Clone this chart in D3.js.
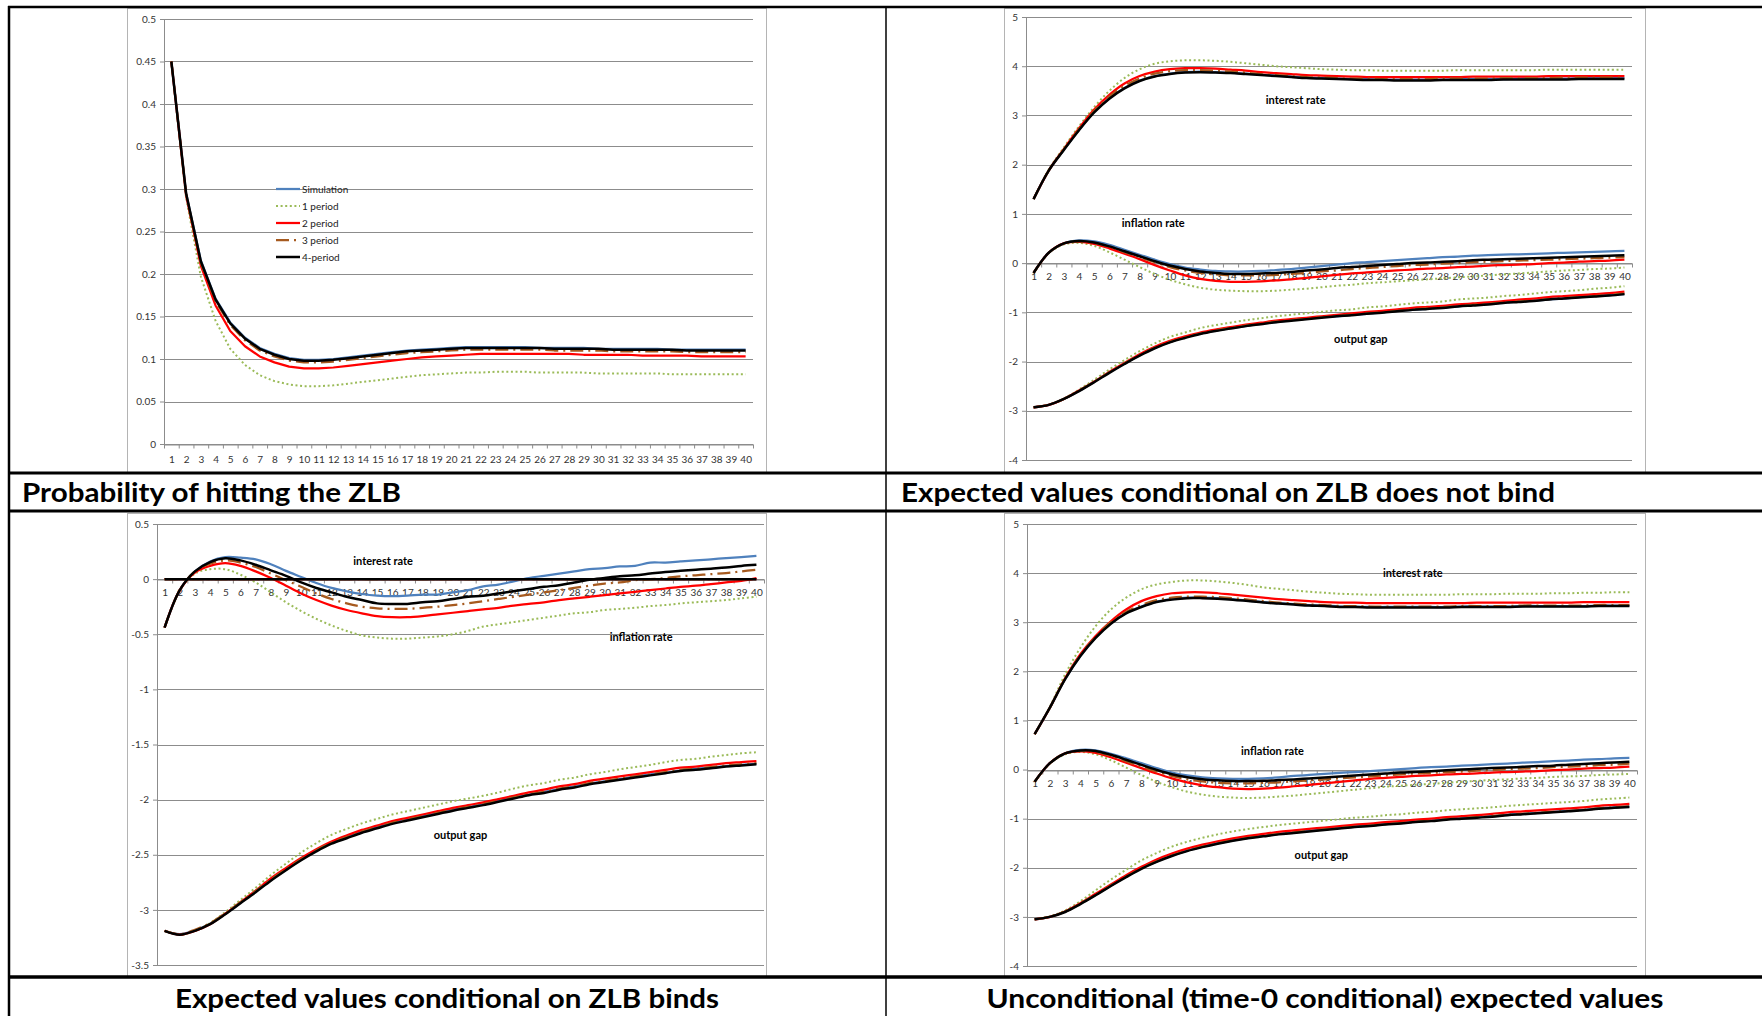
<!DOCTYPE html>
<html>
<head>
<meta charset="utf-8">
<script src="https://cdnjs.cloudflare.com/ajax/libs/d3/7.8.5/d3.min.js"></script>
<style>
  body { margin: 0; background: #fff; }
  svg { display: block; font-family: Lato, "Open Sans", sans-serif; }
</style>
</head>
<body>
<svg id="chart" width="1762" height="1016"></svg>
<script>
// categories: horizon 1..40
var periods = d3.range(1, 41);
var seriesNames = ["Simulation", "1 period", "2 period", "3 period", "4-period"];

// ---- Probability of hitting the ZLB
var probSim = [0.45,0.295,0.216,0.171,0.143,0.125,0.113,0.106,0.101,0.099,0.099,0.100,0.102,0.104,0.106,0.108,0.110,0.111,0.112,0.113,0.114,0.114,0.114,0.114,0.114,0.113,0.113,0.113,0.113,0.112,0.112,0.112,0.112,0.112,0.111,0.111,0.111,0.111,0.111,0.111];
var prob1 = [0.45,0.29,0.197,0.145,0.112,0.093,0.081,0.074,0.070,0.068,0.068,0.069,0.071,0.073,0.075,0.077,0.079,0.081,0.082,0.083,0.084,0.084,0.085,0.085,0.085,0.084,0.084,0.084,0.084,0.083,0.083,0.083,0.083,0.083,0.082,0.082,0.082,0.082,0.082,0.082];
var prob2 = [0.45,0.293,0.210,0.163,0.133,0.115,0.103,0.096,0.091,0.089,0.089,0.090,0.092,0.094,0.096,0.098,0.100,0.102,0.103,0.104,0.105,0.106,0.106,0.106,0.106,0.106,0.106,0.106,0.105,0.105,0.105,0.105,0.104,0.104,0.104,0.104,0.103,0.103,0.103,0.103];
var prob3 = [0.45,0.294,0.213,0.168,0.140,0.122,0.110,0.103,0.098,0.096,0.096,0.097,0.099,0.101,0.103,0.105,0.107,0.108,0.109,0.110,0.111,0.111,0.111,0.111,0.111,0.111,0.110,0.110,0.110,0.110,0.109,0.109,0.109,0.109,0.109,0.108,0.108,0.108,0.108,0.108];
var prob4 = [0.45,0.295,0.215,0.170,0.142,0.124,0.112,0.105,0.100,0.098,0.098,0.099,0.101,0.103,0.105,0.107,0.109,0.110,0.111,0.112,0.113,0.113,0.113,0.113,0.113,0.113,0.112,0.112,0.112,0.112,0.111,0.111,0.111,0.111,0.111,0.110,0.110,0.110,0.110,0.110];

// ---- ZLB does not bind
var nbIrSim = [1.30,1.88,2.30,2.71,3.07,3.35,3.56,3.71,3.80,3.85,3.88,3.89,3.88,3.87,3.85,3.83,3.81,3.79,3.77,3.76,3.75,3.74,3.74,3.73,3.73,3.73,3.73,3.73,3.74,3.74,3.74,3.74,3.75,3.75,3.75,3.75,3.76,3.76,3.76,3.76];
var nbIr1 = [1.30,1.90,2.35,2.78,3.17,3.50,3.76,3.94,4.05,4.10,4.12,4.12,4.11,4.09,4.06,4.03,4.00,3.98,3.96,3.94,3.93,3.92,3.92,3.91,3.91,3.91,3.91,3.91,3.92,3.92,3.92,3.92,3.92,3.92,3.93,3.93,3.93,3.93,3.93,3.93];
var nbIr2 = [1.30,1.88,2.32,2.74,3.12,3.42,3.65,3.80,3.89,3.94,3.96,3.96,3.95,3.93,3.91,3.88,3.86,3.84,3.82,3.81,3.80,3.79,3.78,3.78,3.78,3.78,3.78,3.78,3.78,3.79,3.79,3.79,3.79,3.79,3.80,3.80,3.80,3.80,3.80,3.80];
var nbIr3 = [1.30,1.88,2.31,2.72,3.09,3.38,3.60,3.75,3.85,3.90,3.92,3.92,3.91,3.89,3.87,3.84,3.82,3.80,3.78,3.77,3.76,3.75,3.75,3.74,3.74,3.74,3.74,3.75,3.75,3.75,3.75,3.76,3.76,3.76,3.76,3.77,3.77,3.77,3.77,3.77];
var nbIr4 = [1.30,1.88,2.30,2.70,3.06,3.34,3.55,3.70,3.79,3.84,3.87,3.88,3.87,3.86,3.84,3.82,3.80,3.78,3.76,3.75,3.74,3.73,3.72,3.72,3.71,3.71,3.71,3.72,3.72,3.72,3.72,3.73,3.73,3.73,3.73,3.73,3.74,3.74,3.74,3.74];

var nbPiSim = [-0.20,0.21,0.40,0.46,0.44,0.37,0.27,0.17,0.07,-0.02,-0.09,-0.13,-0.16,-0.17,-0.17,-0.16,-0.14,-0.12,-0.09,-0.06,-0.03,0.00,0.02,0.04,0.06,0.08,0.10,0.12,0.13,0.15,0.16,0.17,0.18,0.19,0.20,0.21,0.22,0.23,0.24,0.25];
var nbPi1 = [-0.20,0.20,0.38,0.41,0.35,0.22,0.07,-0.08,-0.22,-0.34,-0.43,-0.50,-0.54,-0.56,-0.57,-0.57,-0.56,-0.54,-0.52,-0.49,-0.46,-0.44,-0.41,-0.39,-0.37,-0.35,-0.33,-0.31,-0.29,-0.27,-0.25,-0.23,-0.21,-0.19,-0.17,-0.15,-0.14,-0.12,-0.11,-0.09];
var nbPi2 = [-0.20,0.21,0.40,0.43,0.39,0.30,0.19,0.08,-0.04,-0.15,-0.25,-0.32,-0.36,-0.38,-0.38,-0.37,-0.35,-0.33,-0.30,-0.27,-0.24,-0.21,-0.19,-0.17,-0.15,-0.13,-0.11,-0.10,-0.08,-0.07,-0.05,-0.04,-0.03,-0.02,0.00,0.01,0.03,0.04,0.05,0.07];
var nbPi3 = [-0.20,0.21,0.40,0.44,0.41,0.33,0.22,0.12,0.02,-0.08,-0.15,-0.20,-0.23,-0.25,-0.25,-0.25,-0.24,-0.22,-0.20,-0.17,-0.15,-0.12,-0.10,-0.08,-0.06,-0.04,-0.03,-0.01,0.00,0.02,0.03,0.04,0.05,0.06,0.07,0.08,0.09,0.10,0.11,0.12];
var nbPi4 = [-0.20,0.21,0.40,0.45,0.42,0.34,0.24,0.14,0.04,-0.05,-0.12,-0.17,-0.20,-0.22,-0.22,-0.21,-0.20,-0.18,-0.15,-0.13,-0.10,-0.08,-0.06,-0.04,-0.02,0.00,0.01,0.03,0.04,0.06,0.07,0.08,0.09,0.10,0.11,0.12,0.13,0.14,0.15,0.16];

var nbYgSim = [-2.93,-2.88,-2.76,-2.60,-2.41,-2.22,-2.04,-1.87,-1.72,-1.60,-1.51,-1.43,-1.37,-1.32,-1.28,-1.23,-1.20,-1.16,-1.13,-1.10,-1.08,-1.05,-1.03,-1.00,-0.97,-0.95,-0.93,-0.90,-0.88,-0.85,-0.83,-0.81,-0.78,-0.76,-0.74,-0.72,-0.69,-0.67,-0.65,-0.63];
var nbYg1 = [-2.93,-2.88,-2.75,-2.57,-2.37,-2.16,-1.97,-1.79,-1.63,-1.50,-1.41,-1.32,-1.26,-1.21,-1.16,-1.12,-1.08,-1.05,-1.02,-0.99,-0.96,-0.94,-0.90,-0.88,-0.85,-0.82,-0.80,-0.78,-0.74,-0.72,-0.70,-0.67,-0.65,-0.62,-0.59,-0.57,-0.55,-0.52,-0.50,-0.47];
var nbYg2 = [-2.93,-2.88,-2.76,-2.59,-2.41,-2.21,-2.03,-1.85,-1.70,-1.58,-1.49,-1.41,-1.35,-1.30,-1.25,-1.21,-1.17,-1.14,-1.11,-1.08,-1.05,-1.02,-0.99,-0.97,-0.94,-0.91,-0.89,-0.87,-0.84,-0.82,-0.80,-0.77,-0.74,-0.72,-0.69,-0.67,-0.65,-0.63,-0.61,-0.58];
var nbYg3 = [-2.93,-2.88,-2.76,-2.59,-2.41,-2.22,-2.04,-1.87,-1.72,-1.60,-1.51,-1.43,-1.37,-1.32,-1.27,-1.23,-1.19,-1.16,-1.13,-1.10,-1.07,-1.05,-1.02,-1.00,-0.97,-0.94,-0.92,-0.90,-0.87,-0.85,-0.83,-0.80,-0.78,-0.76,-0.73,-0.71,-0.69,-0.67,-0.64,-0.62];
var nbYg4 = [-2.93,-2.88,-2.76,-2.60,-2.42,-2.23,-2.05,-1.88,-1.73,-1.61,-1.52,-1.44,-1.38,-1.33,-1.28,-1.24,-1.20,-1.17,-1.14,-1.11,-1.08,-1.06,-1.03,-1.01,-0.98,-0.95,-0.93,-0.91,-0.88,-0.86,-0.84,-0.81,-0.79,-0.77,-0.74,-0.72,-0.70,-0.68,-0.66,-0.63];

// ---- ZLB binds (interest rate stays at zero for every series)
var bIr = [0,0,0,0,0,0,0,0,0,0,0,0,0,0,0,0,0,0,0,0,0,0,0,0,0,0,0,0,0,0,0,0,0,0,0,0,0,0,0,0];

var bPiSim = [-0.44,-0.10,0.07,0.16,0.20,0.195,0.18,0.135,0.075,0.02,-0.035,-0.08,-0.11,-0.135,-0.15,-0.155,-0.15,-0.14,-0.14,-0.12,-0.10,-0.065,-0.05,-0.02,0.01,0.03,0.05,0.07,0.09,0.10,0.115,0.12,0.15,0.15,0.16,0.17,0.18,0.19,0.20,0.21];
var bPi1 = [-0.44,-0.10,0.05,0.09,0.09,0.04,-0.03,-0.12,-0.21,-0.29,-0.36,-0.42,-0.47,-0.51,-0.53,-0.54,-0.54,-0.53,-0.52,-0.50,-0.47,-0.43,-0.41,-0.39,-0.37,-0.35,-0.33,-0.31,-0.30,-0.28,-0.27,-0.26,-0.245,-0.235,-0.22,-0.21,-0.20,-0.19,-0.175,-0.16];
var bPi2 = [-0.44,-0.10,0.06,0.12,0.145,0.12,0.07,0.01,-0.06,-0.13,-0.19,-0.24,-0.28,-0.31,-0.335,-0.345,-0.345,-0.335,-0.32,-0.305,-0.29,-0.275,-0.26,-0.24,-0.225,-0.21,-0.19,-0.175,-0.16,-0.145,-0.13,-0.115,-0.10,-0.085,-0.07,-0.06,-0.045,-0.03,-0.015,0.01];
var bPi3 = [-0.44,-0.10,0.07,0.14,0.17,0.15,0.11,0.05,-0.01,-0.07,-0.13,-0.18,-0.22,-0.25,-0.265,-0.27,-0.27,-0.26,-0.25,-0.235,-0.22,-0.20,-0.18,-0.16,-0.14,-0.12,-0.10,-0.08,-0.06,-0.04,-0.03,-0.01,0.00,0.01,0.025,0.035,0.045,0.055,0.07,0.085];
var bPi4 = [-0.44,-0.10,0.07,0.155,0.19,0.17,0.13,0.08,0.03,-0.03,-0.08,-0.12,-0.16,-0.19,-0.22,-0.225,-0.225,-0.21,-0.20,-0.18,-0.16,-0.15,-0.13,-0.11,-0.09,-0.07,-0.055,-0.03,-0.006,0.01,0.025,0.035,0.05,0.065,0.075,0.085,0.095,0.105,0.12,0.13];

var bYgSim = [-3.19,-3.22,-3.185,-3.125,-3.035,-2.935,-2.83,-2.73,-2.63,-2.54,-2.46,-2.39,-2.34,-2.29,-2.25,-2.21,-2.18,-2.15,-2.12,-2.09,-2.07,-2.04,-2.01,-1.98,-1.955,-1.93,-1.905,-1.88,-1.855,-1.835,-1.815,-1.79,-1.77,-1.755,-1.735,-1.72,-1.71,-1.695,-1.685,-1.675];
var bYg1 = [-3.19,-3.225,-3.19,-3.12,-3.02,-2.91,-2.80,-2.685,-2.58,-2.48,-2.395,-2.32,-2.265,-2.215,-2.175,-2.135,-2.105,-2.075,-2.045,-2.015,-1.99,-1.965,-1.935,-1.90,-1.87,-1.85,-1.82,-1.80,-1.77,-1.75,-1.725,-1.705,-1.685,-1.66,-1.64,-1.63,-1.61,-1.595,-1.58,-1.57];
var bYg2 = [-3.19,-3.225,-3.19,-3.13,-3.035,-2.93,-2.825,-2.715,-2.62,-2.53,-2.45,-2.38,-2.325,-2.275,-2.235,-2.195,-2.165,-2.135,-2.105,-2.075,-2.05,-2.025,-1.995,-1.965,-1.935,-1.91,-1.88,-1.86,-1.83,-1.81,-1.79,-1.77,-1.75,-1.73,-1.71,-1.70,-1.685,-1.67,-1.66,-1.65];
var bYg3 = [-3.19,-3.22,-3.18,-3.12,-3.03,-2.93,-2.83,-2.725,-2.63,-2.54,-2.46,-2.39,-2.34,-2.29,-2.25,-2.21,-2.18,-2.15,-2.12,-2.09,-2.065,-2.04,-2.01,-1.98,-1.95,-1.93,-1.90,-1.88,-1.85,-1.83,-1.81,-1.79,-1.77,-1.75,-1.73,-1.72,-1.705,-1.69,-1.68,-1.67];
var bYg4 = [-3.19,-3.225,-3.19,-3.13,-3.04,-2.94,-2.84,-2.735,-2.64,-2.55,-2.47,-2.40,-2.35,-2.30,-2.26,-2.22,-2.19,-2.16,-2.13,-2.10,-2.075,-2.05,-2.02,-1.99,-1.96,-1.94,-1.91,-1.89,-1.86,-1.84,-1.82,-1.80,-1.78,-1.76,-1.74,-1.73,-1.715,-1.70,-1.69,-1.68];

// ---- Unconditional
var uIrSim = [0.72,1.26,1.84,2.31,2.69,2.98,3.19,3.32,3.42,3.47,3.50,3.50,3.49,3.47,3.44,3.41,3.39,3.37,3.35,3.34,3.32,3.32,3.31,3.31,3.31,3.31,3.31,3.31,3.32,3.32,3.32,3.32,3.33,3.33,3.33,3.33,3.33,3.34,3.34,3.34];
var uIr1 = [0.72,1.28,1.94,2.48,2.92,3.26,3.50,3.67,3.77,3.82,3.85,3.85,3.83,3.80,3.76,3.71,3.68,3.65,3.62,3.60,3.58,3.57,3.56,3.56,3.56,3.56,3.56,3.56,3.57,3.57,3.57,3.58,3.58,3.58,3.59,3.59,3.60,3.60,3.61,3.61];
var uIr2 = [0.72,1.26,1.86,2.35,2.72,3.02,3.26,3.43,3.53,3.59,3.61,3.61,3.59,3.56,3.53,3.50,3.47,3.45,3.43,3.41,3.40,3.40,3.39,3.39,3.39,3.39,3.39,3.39,3.39,3.40,3.40,3.40,3.40,3.40,3.40,3.40,3.41,3.41,3.41,3.41];
var uIr3 = [0.72,1.26,1.85,2.33,2.70,3.00,3.21,3.35,3.45,3.50,3.52,3.52,3.51,3.49,3.46,3.43,3.40,3.38,3.36,3.35,3.33,3.33,3.32,3.32,3.32,3.32,3.32,3.32,3.33,3.33,3.33,3.33,3.34,3.34,3.34,3.34,3.34,3.35,3.35,3.35];
var uIr4 = [0.72,1.26,1.84,2.31,2.68,2.97,3.18,3.31,3.41,3.46,3.49,3.49,3.48,3.46,3.43,3.40,3.38,3.36,3.34,3.33,3.31,3.31,3.30,3.30,3.30,3.30,3.30,3.30,3.31,3.31,3.31,3.31,3.32,3.32,3.32,3.32,3.32,3.33,3.33,3.33];

var uPiSim = [-0.25,0.13,0.33,0.40,0.39,0.32,0.23,0.13,0.03,-0.06,-0.12,-0.16,-0.18,-0.19,-0.19,-0.18,-0.16,-0.13,-0.11,-0.09,-0.07,-0.05,-0.03,-0.01,0.01,0.03,0.05,0.06,0.08,0.09,0.11,0.12,0.14,0.15,0.17,0.18,0.20,0.21,0.23,0.24];
var uPi1 = [-0.25,0.12,0.31,0.36,0.31,0.19,0.04,-0.11,-0.25,-0.36,-0.45,-0.51,-0.55,-0.57,-0.58,-0.57,-0.55,-0.53,-0.50,-0.47,-0.44,-0.41,-0.38,-0.35,-0.33,-0.31,-0.29,-0.27,-0.25,-0.23,-0.21,-0.20,-0.18,-0.17,-0.15,-0.14,-0.13,-0.11,-0.10,-0.09];
var uPi2 = [-0.25,0.13,0.33,0.37,0.34,0.25,0.14,0.03,-0.08,-0.18,-0.26,-0.32,-0.36,-0.39,-0.40,-0.39,-0.37,-0.34,-0.31,-0.28,-0.25,-0.22,-0.19,-0.17,-0.15,-0.13,-0.12,-0.10,-0.09,-0.08,-0.06,-0.05,-0.04,-0.03,-0.01,0.00,0.02,0.03,0.04,0.06];
var uPi3 = [-0.25,0.13,0.33,0.38,0.36,0.28,0.17,0.06,-0.04,-0.13,-0.20,-0.24,-0.27,-0.28,-0.28,-0.27,-0.26,-0.24,-0.22,-0.20,-0.18,-0.16,-0.14,-0.12,-0.10,-0.08,-0.07,-0.05,-0.04,-0.02,-0.01,0.01,0.02,0.03,0.05,0.06,0.07,0.09,0.10,0.12];
var uPi4 = [-0.25,0.13,0.33,0.39,0.38,0.30,0.20,0.095,-0.007,-0.095,-0.155,-0.195,-0.22,-0.235,-0.235,-0.23,-0.215,-0.20,-0.18,-0.16,-0.14,-0.12,-0.10,-0.08,-0.06,-0.05,-0.035,-0.015,0.00,0.015,0.03,0.04,0.055,0.07,0.08,0.10,0.115,0.13,0.145,0.16];

var uYgSim = [-3.05,-3.00,-2.89,-2.73,-2.55,-2.36,-2.18,-2.01,-1.87,-1.75,-1.65,-1.57,-1.50,-1.44,-1.39,-1.35,-1.31,-1.28,-1.25,-1.22,-1.19,-1.16,-1.14,-1.11,-1.09,-1.06,-1.04,-1.01,-0.99,-0.97,-0.95,-0.92,-0.90,-0.88,-0.86,-0.84,-0.82,-0.79,-0.77,-0.75];
var uYg1 = [-3.05,-2.99,-2.87,-2.68,-2.46,-2.24,-2.04,-1.85,-1.70,-1.57,-1.47,-1.39,-1.32,-1.26,-1.21,-1.17,-1.13,-1.10,-1.07,-1.04,-1.01,-0.98,-0.96,-0.93,-0.91,-0.88,-0.86,-0.83,-0.81,-0.79,-0.77,-0.74,-0.72,-0.70,-0.68,-0.66,-0.64,-0.61,-0.59,-0.57];
var uYg2 = [-3.05,-3.00,-2.89,-2.72,-2.53,-2.34,-2.15,-1.98,-1.83,-1.71,-1.61,-1.53,-1.46,-1.40,-1.35,-1.31,-1.27,-1.24,-1.21,-1.18,-1.15,-1.12,-1.10,-1.07,-1.05,-1.02,-1.00,-0.97,-0.95,-0.93,-0.90,-0.87,-0.85,-0.83,-0.81,-0.79,-0.77,-0.74,-0.72,-0.70];
var uYg3 = [-3.05,-3.00,-2.89,-2.73,-2.55,-2.36,-2.18,-2.01,-1.87,-1.75,-1.65,-1.57,-1.50,-1.44,-1.39,-1.35,-1.31,-1.28,-1.25,-1.22,-1.19,-1.16,-1.14,-1.11,-1.09,-1.06,-1.04,-1.01,-0.99,-0.97,-0.95,-0.92,-0.90,-0.88,-0.86,-0.84,-0.82,-0.79,-0.77,-0.75];
var uYg4 = [-3.05,-3.00,-2.90,-2.74,-2.56,-2.37,-2.19,-2.02,-1.88,-1.76,-1.66,-1.58,-1.51,-1.45,-1.40,-1.36,-1.32,-1.29,-1.26,-1.23,-1.20,-1.17,-1.15,-1.12,-1.10,-1.07,-1.05,-1.02,-1.00,-0.98,-0.96,-0.93,-0.91,-0.89,-0.87,-0.85,-0.83,-0.80,-0.78,-0.76];

// in-chart variable labels, placed in data units (period, value)
var nbLabels = [{text: "interest rate", t: 18.3, v: 3.32}, {text: "inflation rate", t: 8.9, v: 0.82}, {text: "output gap", t: 22.6, v: -1.53}];
var bLabels = [{text: "interest rate", t: 15.4, v: 0.17}, {text: "inflation rate", t: 32.4, v: -0.52}, {text: "output gap", t: 20.5, v: -2.32}];
var uLabels = [{text: "interest rate", t: 25.8, v: 4.01}, {text: "inflation rate", t: 16.6, v: 0.39}, {text: "output gap", t: 19.8, v: -1.73}];

// styles per series (Simulation, 1, 2, 3, 4)
var seriesColors = ["#4f81bd", "#9bbb59", "#ff0000", "#a65a1f", "#000000"];
var seriesDash = [null, "2,2.6", null, "13,5,2,5", null];
var seriesWidth = [2.25, 2, 2.25, 2.25, 2.5];

var svg = d3.select("#chart");
var gridColor = "#8c8c8c";

function drawPanel(p) {
  var g = svg.append("g");
  // chart area border
  g.append("rect")
    .attr("x", p.box[0] + 0.5).attr("y", p.box[1] + 0.5)
    .attr("width", p.box[2] - p.box[0]).attr("height", p.box[3] - p.box[1])
    .attr("fill", "#fff").attr("stroke", "#b4b4b4");

  var x = d3.scaleLinear().domain([0.5, 40.5]).range([p.plot[0], p.plot[2]]);
  var y = d3.scaleLinear().domain(p.yDomain).range([p.plot[3], p.plot[1]]);
  var fmt = function (d) { return String(Math.round(d * 100) / 100); };

  // gridlines
  g.append("g").selectAll("line").data(p.yTicks).enter().append("line")
    .attr("x1", p.plot[0]).attr("x2", p.plot[2])
    .attr("y1", function (d) { return Math.round(y(d)) + 0.5; })
    .attr("y2", function (d) { return Math.round(y(d)) + 0.5; })
    .attr("stroke", gridColor).attr("stroke-width", 1);

  // y axis
  var ya = g.append("g").attr("transform", "translate(" + p.plot[0] + ",0)")
    .call(d3.axisLeft(y).tickValues(p.yTicks).tickFormat(fmt).tickSize(4).tickPadding(4).tickSizeOuter(0));
  ya.selectAll("line,path").attr("stroke", gridColor);
  ya.selectAll("text").attr("font-size", 10).attr("fill", "#333").attr("font-family", "Lato, sans-serif");

  // x axis at zero: boundary tick marks + centred labels
  var y0 = Math.round(y(0)) + 0.5;
  var xt = g.append("g").attr("transform", "translate(0," + y0 + ")")
    .call(d3.axisBottom(x).tickValues(d3.range(0.5, 41, 1)).tickFormat("").tickSize(4).tickSizeOuter(0));
  xt.selectAll("line,path").attr("stroke", gridColor);
  var xl = g.append("g").attr("transform", "translate(0," + y0 + ")")
    .call(d3.axisBottom(x).tickValues(periods).tickSize(0).tickPadding(p.xPad));
  xl.select("path").remove();
  xl.selectAll("text").attr("font-size", 10).attr("fill", "#333").attr("font-family", "Lato, sans-serif");

  // series lines
  var line = d3.line()
    .x(function (d, i) { return x(periods[i]); })
    .y(function (d) { return y(d); })
    .curve(p.curve);
  for (var s = 0; s < 5; s++) {
    p.groups.forEach(function (grp) {
      g.append("path")
        .datum(grp[s])
        .attr("d", line)
        .attr("fill", "none")
        .attr("stroke", seriesColors[s])
        .attr("stroke-width", seriesWidth[s])
        .attr("stroke-dasharray", seriesDash[s])
        .attr("stroke-linejoin", "round");
    });
  }

  // variable labels
  g.selectAll("text.varlabel").data(p.labels || []).enter().append("text")
    .attr("class", "varlabel")
    .attr("x", function (d) { return x(d.t); })
    .attr("y", function (d) { return y(d.v); })
    .attr("text-anchor", "middle").attr("dominant-baseline", "central")
    .attr("font-size", 11).attr("font-weight", "bold").attr("fill", "#000")
    .text(function (d) { return d.text; });

  return g;
}

var smooth = d3.curveCatmullRom.alpha(0.5);

var p1 = drawPanel({
  box: [127, 8, 766, 472], plot: [164, 19, 753, 444],
  yDomain: [0, 0.5], yTicks: d3.range(0, 11).map(function (i) { return i * 0.05; }),
  xPad: 11, curve: d3.curveLinear,
  groups: [[probSim, prob1, prob2, prob3, prob4]]
});

drawPanel({
  box: [1004, 8, 1645, 472], plot: [1026, 17, 1632, 460],
  yDomain: [-4, 5], yTicks: d3.range(-4, 6), xPad: 9, curve: smooth,
  groups: [[nbIrSim, nbIr1, nbIr2, nbIr3, nbIr4], [nbPiSim, nbPi1, nbPi2, nbPi3, nbPi4], [nbYgSim, nbYg1, nbYg2, nbYg3, nbYg4]],
  labels: nbLabels
});

drawPanel({
  box: [127, 513, 766, 976], plot: [157, 524, 764, 965],
  yDomain: [-3.5, 0.5], yTicks: d3.range(-7, 2).map(function (i) { return i * 0.5; }), xPad: 9, curve: smooth,
  groups: [[bPiSim, bPi1, bPi2, bPi3, bPi4], [bYgSim, bYg1, bYg2, bYg3, bYg4], [bIr, bIr, bIr, bIr, bIr]],
  labels: bLabels
});

drawPanel({
  box: [1004, 513, 1645, 976], plot: [1027, 524, 1637, 966],
  yDomain: [-4, 5], yTicks: d3.range(-4, 6), xPad: 9, curve: smooth,
  groups: [[uIrSim, uIr1, uIr2, uIr3, uIr4], [uPiSim, uPi1, uPi2, uPi3, uPi4], [uYgSim, uYg1, uYg2, uYg3, uYg4]],
  labels: uLabels
});

// legend (panel 1)
var leg = p1.append("g").attr("transform", "translate(276,189)");
seriesNames.forEach(function (name, i) {
  var row = leg.append("g").attr("transform", "translate(0," + (i * 17) + ")");
  row.append("line").attr("x1", 0).attr("x2", 24).attr("y1", 0).attr("y2", 0)
    .attr("stroke", seriesColors[i]).attr("stroke-width", seriesWidth[i])
    .attr("stroke-dasharray", seriesDash[i]);
  row.append("text").attr("x", 26).attr("y", 0).attr("dominant-baseline", "central")
    .attr("font-size", 10).attr("fill", "#222").text(name);
});

// table frame (no right border visible in the reference)
var frame = svg.append("g");
[[7, 2.5], [473, 3], [511, 3], [977, 3.5]].forEach(function (h) {
  frame.append("line").attr("x1", 8).attr("x2", 1762).attr("y1", h[0]).attr("y2", h[0])
    .attr("stroke", "#000").attr("stroke-width", h[1]);
});
[[9, 2.5], [886, 1.5]].forEach(function (v) {
  frame.append("line").attr("x1", v[0]).attr("x2", v[0]).attr("y1", 6).attr("y2", 1016)
    .attr("stroke", "#000").attr("stroke-width", v[1]);
});

// cell titles
var titles = [
  {text: "Probability of hitting the ZLB", x: 22, y: 502, anchor: "start", len: 379},
  {text: "Expected values conditional on ZLB does not bind", x: 901, y: 502, anchor: "start", len: 654},
  {text: "Expected values conditional on ZLB binds", x: 447, y: 1008, anchor: "middle", len: 544},
  {text: "Unconditional (time-0 conditional) expected values", x: 1325, y: 1008, anchor: "middle", len: 677}
];
svg.append("g").selectAll("text").data(titles).enter().append("text")
  .attr("x", function (d) { return d.x; })
  .attr("y", function (d) { return d.y; })
  .attr("text-anchor", function (d) { return d.anchor; })
  .attr("textLength", function (d) { return d.len; })
  .attr("lengthAdjust", "spacingAndGlyphs")
  .attr("font-size", 27).attr("font-weight", "bold").attr("fill", "#000")
  .text(function (d) { return d.text; });
</script>
